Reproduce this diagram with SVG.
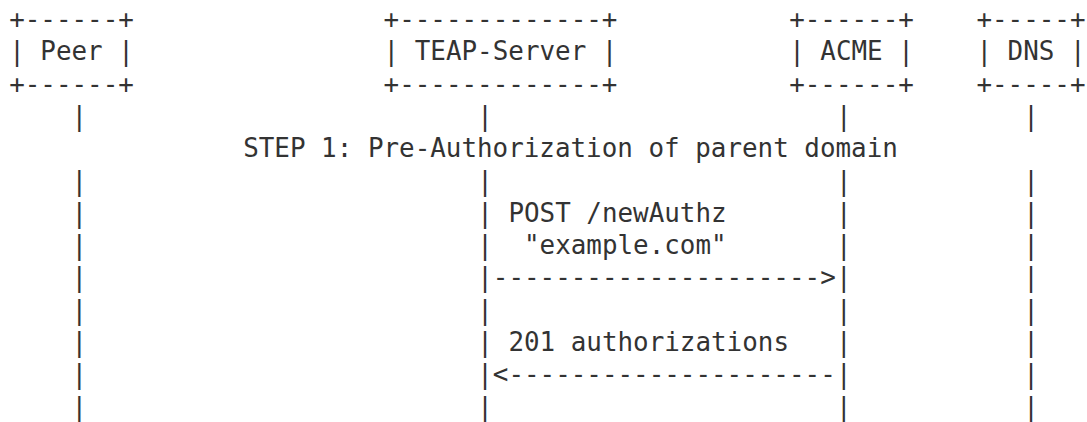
<svg xmlns="http://www.w3.org/2000/svg" width="1087" height="422" viewBox="0 0 1087 422">
<style>
text{font-family:"DejaVu Sans Mono","Liberation Mono",monospace;font-size:25.9px;fill:#333;white-space:pre}
</style>
<rect width="1087" height="422" fill="#fff"/>
<g id="peer">
<text x="9.2" y="28">+------+</text>
<text x="9.2" y="60.3">| Peer |</text>
<text x="9.2" y="92.6">+------+</text>
</g>
<g id="teap-server">
<text x="383.6" y="28">+-------------+</text>
<text x="383.6" y="60.3">| TEAP-Server |</text>
<text x="383.6" y="92.6">+-------------+</text>
</g>
<g id="acme">
<text x="789.2" y="28">+------+</text>
<text x="789.2" y="60.3">| ACME |</text>
<text x="789.2" y="92.6">+------+</text>
</g>
<g id="dns">
<text x="976.4" y="28">+-----+</text>
<text x="976.4" y="60.3">| DNS |</text>
<text x="976.4" y="92.6">+-----+</text>
</g>
<g id="connectors">
<text><tspan x="71.6" y="124.9">|</tspan><tspan x="71.6" y="189.5">|</tspan><tspan x="71.6" y="221.8">|</tspan><tspan x="71.6" y="254.1">|</tspan><tspan x="71.6" y="286.4">|</tspan><tspan x="71.6" y="318.7">|</tspan><tspan x="71.6" y="351">|</tspan><tspan x="71.6" y="383.3">|</tspan><tspan x="71.6" y="415.6">|</tspan></text>
<text><tspan x="477.2" y="124.9">|</tspan><tspan x="477.2" y="189.5">|</tspan><tspan x="477.2" y="221.8">|</tspan><tspan x="477.2" y="254.1">|</tspan><tspan x="477.2" y="286.4">|</tspan><tspan x="477.2" y="318.7">|</tspan><tspan x="477.2" y="351">|</tspan><tspan x="477.2" y="383.3">|</tspan><tspan x="477.2" y="415.6">|</tspan></text>
<text><tspan x="836" y="124.9">|</tspan><tspan x="836" y="189.5">|</tspan><tspan x="836" y="221.8">|</tspan><tspan x="836" y="254.1">|</tspan><tspan x="836" y="286.4">|</tspan><tspan x="836" y="318.7">|</tspan><tspan x="836" y="351">|</tspan><tspan x="836" y="383.3">|</tspan><tspan x="836" y="415.6">|</tspan></text>
<text><tspan x="1023.2" y="124.9">|</tspan><tspan x="1023.2" y="189.5">|</tspan><tspan x="1023.2" y="221.8">|</tspan><tspan x="1023.2" y="254.1">|</tspan><tspan x="1023.2" y="286.4">|</tspan><tspan x="1023.2" y="318.7">|</tspan><tspan x="1023.2" y="351">|</tspan><tspan x="1023.2" y="383.3">|</tspan><tspan x="1023.2" y="415.6">|</tspan></text>
<text x="243.2" y="157.2">STEP 1: Pre-Authorization of parent domain</text>
<text x="508.4" y="221.8">POST /newAuthz</text>
<text x="524" y="254.1">"example.com"</text>
<text x="492.8" y="286.4">---------------------&gt;</text>
<text x="508.4" y="351">201 authorizations</text>
<text x="492.8" y="383.3">&lt;---------------------</text>
</g>
</svg>
